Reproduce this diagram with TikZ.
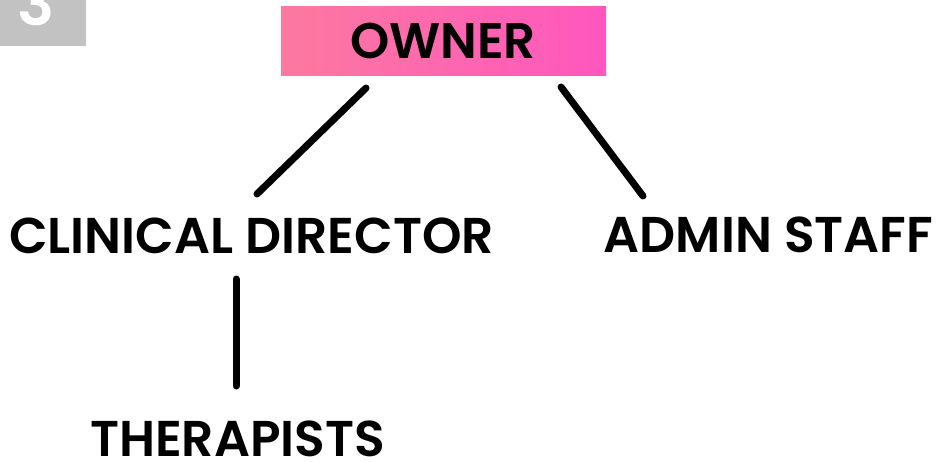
\documentclass[tikz,border=0pt]{standalone}
\usepackage{fontspec}
\setmainfont{Poppins}
\newfontfamily\semib{Poppins SemiBold}
\usepackage{tikz}

\definecolor{boxgrey}{HTML}{C2C2C2}
\definecolor{pinkA}{HTML}{FA8A90}
\definecolor{pinkB}{HTML}{FF55BF}
\definecolor{pinkC}{HTML}{FF6EA8}
\pgfdeclarehorizontalshading{ownershade}{100bp}{%
  color(0bp)=(pinkA); color(77bp)=(pinkB); color(100bp)=(pinkC)}

\begin{document}
\begin{tikzpicture}[x=1pt,y=1pt]
\tikzstyle{every node}+=[inner sep=0pt]
\tikzstyle{role}=[font=\fontsize{50.3}{50}\selectfont\semib, anchor=base]
\tikzstyle{link}=[black, line width=7pt, line cap=round]
\useasboundingbox (0,0) rectangle (938,-461);
% step number, cut off at the top
\fill [boxgrey] (0,0) rectangle (86,-46);
\begin{scope}
\clip (0,0) rectangle (86,-46);
\node [anchor=base, text=white, font=\fontsize{62}{62}\selectfont\semib] (stepnum) at (36,-25) {3};
\end{scope}
% owner box
\shade [shading=ownershade] (281,-6) rectangle (606,-75);
\node [role, font=\fontsize{50}{50}\selectfont\semib] (owner) at (443,-58) {OWNER};
\node [role] (clin) at (251.5,-253) {CLINICAL DIRECTOR};
\node [role] (admin) at (768.5,-252) {ADMIN STAFF};
\node [role] (ther) at (237.5,-456) {THERAPISTS};
% connector ends
\coordinate (ownL) at (366,-88);
\coordinate (clinT) at (257,-194);
\coordinate (ownR) at (561,-87);
\coordinate (adminT) at (643,-196);
\coordinate (clinB) at (236,-279);
\coordinate (therT) at (236,-386);
\draw [link] (ownL) -- (clinT);
\draw [link] (ownR) -- (adminT);
\draw [link] (clinB) -- (therT);
\end{tikzpicture}
\end{document}
